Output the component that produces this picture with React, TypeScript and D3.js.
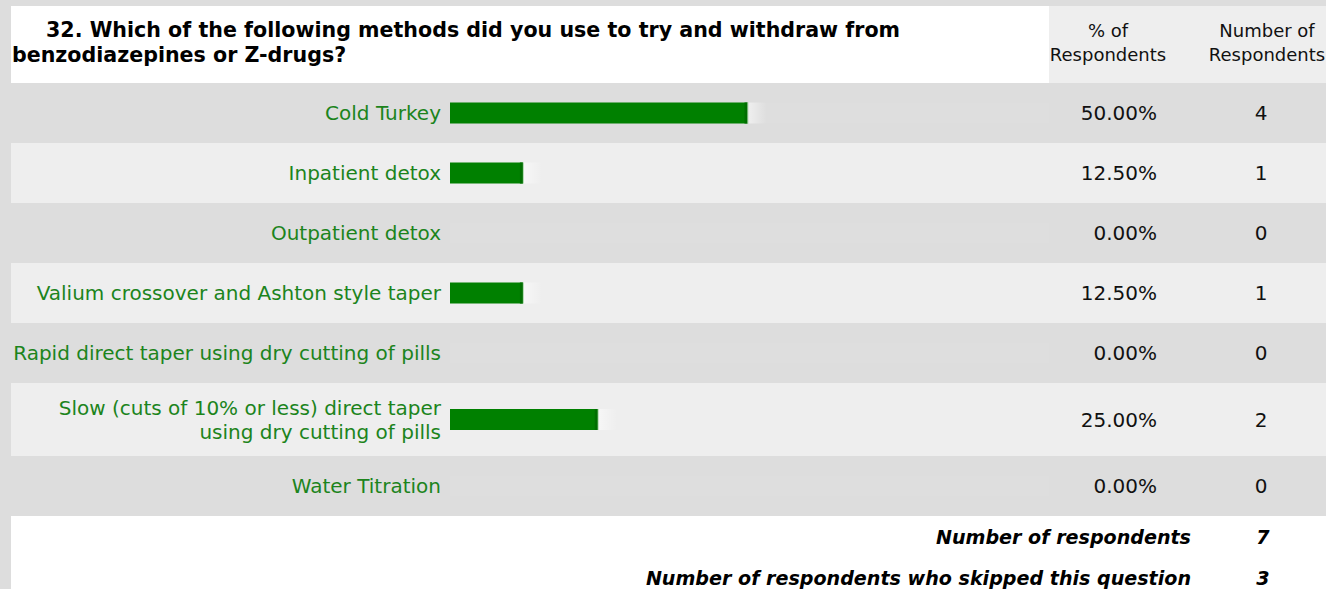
import React from "react";
import * as d3 from "d3";

const titleLines = [
  "32. Which of the following methods did you use to try and withdraw from",
  "benzodiazepines or Z-drugs?",
];
const colHeader1 = ["% of", "Respondents"];
const colHeader2 = ["Number of", "Respondents"];
const categories = [
  "Cold Turkey",
  "Inpatient detox",
  "Outpatient detox",
  "Valium crossover and Ashton style taper",
  "Rapid direct taper using dry cutting of pills",
  "Slow (cuts of 10% or less) direct taper\nusing dry cutting of pills",
  "Water Titration",
];
const percents = [50.0, 12.5, 0.0, 12.5, 0.0, 25.0, 0.0];
const counts = [4, 1, 0, 1, 0, 2, 0];
const footerLabels = [
  "Number of respondents",
  "Number of respondents who skipped this question",
];
const footerValues = [7, 3];

const W = 1326;
const H = 589;
const FONT = "'DejaVu Sans', Verdana, Tahoma, sans-serif";
const LABEL_COLOR = "#1c841c";

export default function App() {
  const left = 11;
  const headerTop = 6;
  const headerBottom = 83;
  const splitX = 1049;
  const barX0 = 450;

  const x = d3.scaleLinear().domain([0, 100]).range([0, splitX - barX0]);

  const lineSets = categories.map((c) => c.split("\n"));
  const heights = lineSets.map((ls) => (ls.length > 1 ? 73 : 60));
  const tops: number[] = [];
  let acc = headerBottom;
  heights.forEach((h) => {
    tops.push(acc);
    acc += h;
  });
  const footerTop = acc;

  const fs = 20;
  const barH = 21;

  return (
    <svg
      width={W}
      height={H}
      style={{ position: "absolute", left: 0, top: 0, display: "block" }}
      fontFamily={FONT}
    >
      <defs>
        <linearGradient id="tail" x1="0" x2="1" y1="0" y2="0">
          <stop offset="0" stopColor="#ffffff" stopOpacity="0.5" />
          <stop offset="1" stopColor="#ffffff" stopOpacity="0" />
        </linearGradient>
      </defs>
      <rect x={0} y={0} width={W} height={H} fill="#dddddd" />
      <rect x={left} y={headerTop} width={splitX - left} height={headerBottom - headerTop} fill="#ffffff" />
      <rect x={splitX} y={headerTop} width={W - splitX} height={headerBottom - headerTop} fill="#eeeeee" />
      <text x={46} y={37} fontSize={20.6} fontWeight="bold" fill="#000">
        {titleLines[0]}
      </text>
      <text x={12} y={62} fontSize={20.6} fontWeight="bold" fill="#000">
        {titleLines[1]}
      </text>
      {colHeader1.map((t, i) => (
        <text key={"h1" + i} x={1108} y={37 + i * 24} fontSize={18} textAnchor="middle" fill="#111">
          {t}
        </text>
      ))}
      {colHeader2.map((t, i) => (
        <text key={"h2" + i} x={1267} y={37 + i * 24} fontSize={18} textAnchor="middle" fill="#111">
          {t}
        </text>
      ))}

      {categories.map((c, i) => {
        const top = tops[i];
        const h = heights[i];
        const cy = top + h / 2;
        const lines = lineSets[i];
        const bw = x(percents[i]);
        const textY0 = cy - ((lines.length - 1) * 24) / 2 + 7;
        return (
          <g key={c}>
            <rect x={left} y={top} width={W - left} height={h} fill={i % 2 === 0 ? "#dddddd" : "#eeeeee"} />
            <rect x={barX0} y={cy - barH / 2} width={splitX - barX0} height={barH} fill="#ffffff" opacity={0.05} />
            {lines.map((ln, j) => (
              <text key={j} x={441} y={textY0 + j * 24} fontSize={fs} textAnchor="end" fill={LABEL_COLOR}>
                {ln}
              </text>
            ))}
            {bw > 0 && (
              <g>
                <rect x={barX0} y={cy - barH / 2} width={bw - 2} height={barH} fill="#008000" />
                <rect x={barX0 + bw - 5} y={cy - barH / 2} width={3} height={barH} fill="#006e00" />
                <rect x={barX0 + bw - 2} y={cy - barH / 2} width={1} height={barH} fill="#a8d6a8" />
                <rect x={barX0 + bw - 1} y={cy - barH / 2} width={18} height={barH} fill="url(#tail)" />
              </g>
            )}
            <text x={1157} y={cy + 7} fontSize={fs} textAnchor="end" fill="#111">
              {d3.format(".2f")(percents[i]) + "%"}
            </text>
            <text x={1261} y={cy + 7} fontSize={fs} textAnchor="middle" fill="#111">
              {counts[i]}
            </text>
          </g>
        );
      })}

      <rect x={left} y={footerTop} width={W - left} height={H - footerTop} fill="#ffffff" />
      {footerLabels.map((t, i) => (
        <g key={t}>
          <text
            x={1191}
            y={footerTop + 28 + i * 41}
            fontSize={19.1}
            fontWeight="bold"
            fontStyle="italic"
            textAnchor="end"
            fill="#000"
          >
            {t}
          </text>
          <text
            x={1263}
            y={footerTop + 28 + i * 41}
            fontSize={19.1}
            fontWeight="bold"
            fontStyle="italic"
            textAnchor="middle"
            fill="#000"
          >
            {footerValues[i]}
          </text>
        </g>
      ))}
    </svg>
  );
}
